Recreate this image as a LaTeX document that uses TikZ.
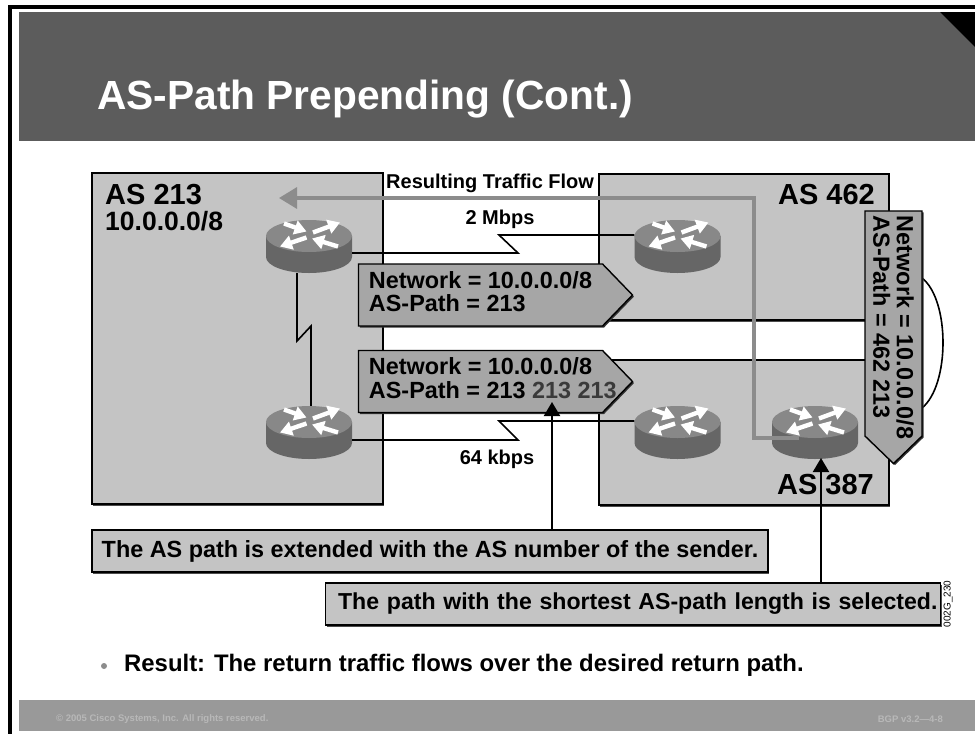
\documentclass[tikz,border=0pt]{standalone}
\usepackage{fontspec}
\setmainfont{Liberation Sans}
\usetikzlibrary{arrows.meta,shapes.symbols,shadows}

\definecolor{headgray}{HTML}{5C5C5C}
\definecolor{footgray}{HTML}{999999}
\definecolor{foottext}{HTML}{B8B8B8}
\definecolor{boxgray}{HTML}{C4C4C4}
\definecolor{taggray}{HTML}{A6A6A6}
\definecolor{flowgray}{HTML}{8C8C8C}
\definecolor{routertop}{HTML}{888888}
\definecolor{routerside}{HTML}{666666}
\definecolor{extragray}{HTML}{3A3A3A}

\newcommand{\fsize}[1]{\bfseries\fontsize{#1}{#1}\selectfont}

\tikzset{
  asbox/.style={draw=black,line width=1.4pt,fill=boxgray,inner sep=0pt,
    drop shadow={shadow xshift=1.2pt,shadow yshift=-1.5pt,fill=black!70,opacity=1}},
  calloutbox/.style={asbox,font=\fsize{23.4},minimum height=42pt},
  astext/.style={font=\fsize{29},inner sep=0pt},
  tagbox/.style={signal,signal to=east,signal pointer angle=92,draw=black,
    line width=1.4pt,fill=taggray,font=\fsize{23.4},align=left,inner xsep=10.5pt,
    inner ysep=0pt,minimum height=62pt,
    drop shadow={shadow xshift=1.5pt,shadow yshift=-1.5pt,fill=black!80,opacity=1}},
  link/.style={draw=black,line width=1.6pt},
  rate/.style={font=\fsize{20},inner sep=0pt},
  pointer/.style={draw=black,line width=2pt,-{Triangle[length=14pt,width=16pt]}},
  flow/.style={draw=flowgray,line width=3.2pt,-{Triangle[length=18pt,width=21pt]}},
  routerarrow/.style={draw=white,line width=4.4pt,-{Triangle[length=12pt,width=14pt]}},
  router/.pic={
    \fill[routerside] (-43,-10.5) -- (-43,10.5)
      arc[start angle=180,end angle=360,x radius=43pt,y radius=16pt] -- (43,-10.5) -- cycle;
    \fill[routertop] (0,-10.5) ellipse [x radius=43pt,y radius=16pt];
    \draw[routerarrow] (-25,-23) -- (-2.5,-15);
    \draw[routerarrow] (4,-14) -- (31,-24);
    \draw[routerarrow] (-2.5,-9) -- (-29,0);
    \draw[routerarrow] (29,0) -- (3,-8);
    \node[minimum width=86pt,minimum height=53pt,inner sep=0pt] (box) {};
  }
}

\begin{document}
\begin{tikzpicture}[x=1pt,y=-1pt]

  \useasboundingbox (0,0) rectangle (975,734);

  % slide frame
  \fill[black] (8,5) rectangle (975,9);
  \fill[black] (8,5) rectangle (12,734);
  \fill[headgray] (19,12) rectangle (975,141);
  \fill[black] (940,12) -- (975,12) -- (975,47) -- cycle;
  \fill[footgray] (19,700) rectangle (975,731);

  \node[anchor=west,font=\fsize{40.7},text=white,inner sep=0pt] (title) at (97,99) {AS-Path Prepending (Cont.)};
  \node[anchor=west,font=\fsize{9.5},text=foottext,inner sep=0pt] (copyright) at (56,719) {© 2005 Cisco Systems, Inc. All rights reserved.};
  \node[anchor=east,font=\fsize{9.5},text=foottext,inner sep=0pt] (course) at (943,719) {BGP v3.2—4-8};

  % AS boxes
  \node[asbox,minimum width=291pt,minimum height=331pt] (as213) at (237.5,338.5) {};
  \node[asbox,minimum width=290pt,minimum height=146pt] (as462) at (744,247) {};
  \node[asbox,minimum width=290pt,minimum height=145pt] (as387) at (744,432.5) {};

  \node[astext,anchor=west] (as213a) at (105,195) {AS 213};
  \node[astext,anchor=west,font=\fsize{26.5}] (as213b) at (105,221) {10.0.0.0/8};
  \node[astext,anchor=east] (as462a) at (875,195) {AS 462};
  \node[astext,anchor=east] (as387a) at (874,485) {AS 387};

  \node[anchor=west,font=\fsize{20},inner sep=0pt] (flowtext) at (386,183.5) {Resulting Traffic Flow};
  \node[rate] (rate2m) at (500,219) {2 Mbps};
  \node[rate] (rate64k) at (497,459) {64 kbps};

  % routers
  \pic (r1) at (309,246.5) {router};
  \pic (r2) at (309,432.5) {router};
  \pic (r3) at (677.5,246.5) {router};
  \pic (r4) at (677.5,432.5) {router};
  \pic (r5) at (815,432.5) {router};

  % serial links
  \coordinate (top1) at (518,253);
  \coordinate (top2) at (499,235);
  \coordinate (low1) at (518,440);
  \coordinate (low2) at (499,421);
  \coordinate (mid1) at (297,341);
  \coordinate (mid2) at (311,326);
  \draw[link] (r1box.east |- top1) -- (top1) -- (top2) -- (top2 -| r3box.west);
  \draw[link] (r2box.east |- low1) -- (low1) -- (low2) -- (low2 -| r4box.west);
  \draw[link] (mid1 |- r1box.south) -- (mid1) -- (mid2) -- (mid2 |- r2box.north);

  % traffic flow
  \coordinate (flowend) at (279,198);
  \draw[flow] ([xshift=-16pt,yshift=-5.5pt]r5box.center) -- ++(-45,0) -- (754,198) -- (flowend);

  % route tags
  \node[tagbox,text depth=7pt] (tagtop) at (480.5,295) {Network = 10.0.0.0/8\\AS-Path = 213};
  \node[tagbox,text depth=7pt] (tagbot) at (480.5,381.5) {Network = 10.0.0.0/8\\AS-Path = 213 \rlap{\color{extragray}213 213}};
  \draw[link] (922,278) .. controls (950,300) and (950,385) .. (922,408);
  \node[tagbox,rotate=-90,minimum height=57pt,inner xsep=0pt] (tagside) at (893.5,323.5) {\hspace*{5pt}Network = 10.0.0.0/8\hspace*{-3pt}\\\hspace*{5pt}AS-Path = 462 213};

  % callouts
  \node[calloutbox,minimum width=676pt,align=center] (callout1) at (430,551) {The AS path is extended with the AS number of the sender.};
  \node[calloutbox,font=\fsize{23.1},minimum width=615pt,text width=609pt,inner xsep=3pt,align=right] (callout2) at (633,604) {The path with the shortest AS-path length is selected.};
  \draw[pointer] (callout1.north -| 552,0) -- (552,402);
  \draw[pointer] (callout2.north -| 821,0) -- (821,458);

  \node[rotate=90,font=\fontsize{10}{10}\selectfont,inner sep=0pt] (figcode) at (948,604) {002G\_230};

  % bullet
  \fill[flowgray] (104,666) circle [radius=3pt];
  \node[anchor=west,font=\fsize{23.9},inner sep=0pt] (result) at (124,665) {Result: The return traffic flows over the desired return path.};

\end{tikzpicture}
\end{document}
